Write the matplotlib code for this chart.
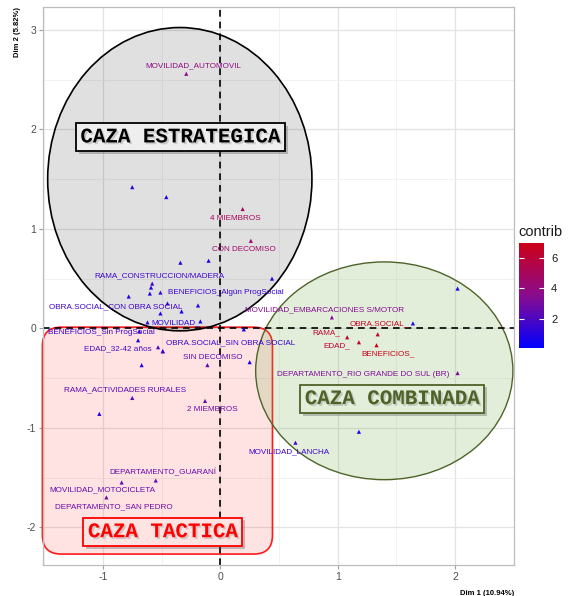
import matplotlib
matplotlib.use("Agg")
import matplotlib.pyplot as plt
import matplotlib.patheffects as pe
from matplotlib.patches import Ellipse, FancyBboxPatch
from matplotlib.colors import LinearSegmentedColormap, Normalize
from matplotlib.colorbar import ColorbarBase
from matplotlib.ticker import MultipleLocator

plt.rcParams['font.family'] = ['Liberation Sans', 'DejaVu Sans']
plt.rcParams['axes.unicode_minus'] = False

# ---------------- data ----------------
var_labels = [
    "MOVILIDAD_AUTOMOVIL", "", "", "4 MIEMBROS", "CON DECOMISO", "", "", "",
    "RAMA_CONSTRUCCION/MADERA", "", "", "BENEFICIOS_Algún ProgSocial", "",
    "OBRA.SOCIAL_CON OBRA SOCIAL", "", "", "", "MOVILIDAD_", "", "",
    "BENEFICIOS_Sin ProgSocial", "", "EDAD_32-42 años", "", "OBRA.SOCIAL_SIN OBRA SOCIAL",
    "", "SIN DECOMISO", "", "RAMA_ACTIVIDADES RURALES", "2 MIEMBROS", "",
    "MOVILIDAD_LANCHA", "", "MOVILIDAD_MOTOCICLETA", "DEPARTAMENTO_GUARANÍ",
    "DEPARTAMENTO_SAN PEDRO", "", "MOVILIDAD_EMBARCACIONES S/MOTOR", "",
    "OBRA.SOCIAL_", "RAMA_", "EDAD_", "BENEFICIOS_", "DEPARTAMENTO_RIO GRANDE DO SUL (BR)",
]
dim1 = [-0.29, -0.75, -0.46, 0.19, 0.26, -0.34, -0.10, 0.44,
        -0.58, -0.59, -0.60, -0.51, -0.78,
        -0.45, -0.19, -0.33, -0.51, -0.62, -0.17, 0.20,
        -0.69, -0.70, -0.53, -0.49, -0.49,
        -0.67, -0.11, 0.25, -0.75, -0.13, -1.03,
        0.64, 1.18, -0.84, -0.55,
        -0.97, 2.02, 0.95, 1.64,
        1.34, 1.08, 1.18, 1.33, 2.02]
dim2 = [2.56, 1.42, 1.32, 1.20, 0.88, 0.66, 0.68, 0.50,
        0.45, 0.41, 0.35, 0.36, 0.32,
        0.25, 0.23, 0.17, 0.15, 0.06, 0.07, -0.01,
        -0.03, -0.12, -0.19, -0.23, -0.23,
        -0.37, -0.37, -0.34, -0.70, -0.73, -0.86,
        -1.15, -1.04, -1.55, -1.53,
        -1.70, 0.40, 0.11, 0.05,
        -0.06, -0.09, -0.14, -0.17, -0.45]
contrib = [3.8, 1.0, 1.0, 5.0, 4.6, 1.0, 0.9, 1.0,
           1.6, 0.9, 1.0, 1.5, 0.8,
           1.6, 0.8, 0.6, 0.8, 1.4, 0.5, 0.4,
           1.5, 0.9, 2.0, 1.0, 1.5,
           0.9, 2.4, 0.6, 2.3, 2.8, 0.9,
           1.6, 0.7, 2.5, 2.6,
           2.8, 0.6, 3.4, 0.8,
           6.5, 6.2, 6.3, 6.9, 3.2]
# label offsets from their point, in pixels (dx right, dy up)
label_offsets = [(7, 8), (0, 0), (0, 0), (-7, -9), (-7, -9), (0, 0), (0, 0), (0, 0),
                 (7, 8), (0, 0), (0, 0), (65, 0), (0, 0),
                 (-52, -3), (0, 0), (0, 0), (0, 0), (28, 0), (0, 0), (0, 0),
                 (-38, -1), (0, 0), (-40, -2), (0, 0), (68, 8),
                 (0, 0), (5, 8), (0, 0), (-7, 8), (7, -9), (0, 0),
                 (-7, -9), (0, 0), (-19, -7), (7, 8),
                 (7, -9), (0, 0), (-7, 8), (0, 0),
                 (2, 11), (-21, 5), (-22, -4), (11, -9), (-94, -1)]

x_ticks = [-1, 0, 1, 2]
y_ticks = [-2, -1, 0, 1, 2, 3]
cbar_ticks = [2, 4, 6]

# ---------------- figure ----------------
fig = plt.figure(figsize=(5.8, 5.96), dpi=100)
ax = fig.add_axes([0.0741, 0.052, 0.812, 0.936])
ax.set_xlim(-1.51, 2.50)
ax.set_ylim(-2.38, 3.23)

cmap = LinearSegmentedColormap.from_list("contrib", ["#0000FF", "#8A0C8E", "#CC0018"])
norm = Normalize(vmin=0.07, vmax=6.94)

# grid
ax.set_xticks(x_ticks)
ax.set_yticks(y_ticks)
ax.xaxis.set_minor_locator(MultipleLocator(0.5))
ax.yaxis.set_minor_locator(MultipleLocator(0.5))
ax.grid(which='major', color='#E3E3E3', lw=0.9, zorder=0)
ax.grid(which='minor', color='#F0F0F0', lw=0.6, zorder=0)
ax.set_axisbelow(True)
for s in ax.spines.values():
    s.set_color('#BDBDBD')
    s.set_linewidth(0.9)
ax.tick_params(which='major', length=3, color='#9E9E9E', labelsize=7.5, labelcolor='#4D4D4D', pad=2)
ax.tick_params(which='minor', length=0)

# shapes
rect = FancyBboxPatch((-1.515, -2.27), 1.959, 2.282,
                      boxstyle="round,pad=0,rounding_size=0.16",
                      mutation_aspect=1.18,
                      facecolor=(1, 0, 0, 0.11), edgecolor='#FF1A1A', lw=1.2,
                      zorder=1, clip_on=False)
ax.add_patch(rect)
ell_g = Ellipse((1.396, -0.427), 2.19, 2.19, facecolor=(0.44, 0.68, 0.28, 0.20),
                edgecolor='#4F6228', lw=1.0, zorder=1.1)
ax.add_patch(ell_g)
ell_k = Ellipse((-0.345, 1.50), 2.25, 3.05, facecolor=(0, 0, 0, 0.12),
                edgecolor='black', lw=1.2, zorder=1.2)
ax.add_patch(ell_k)

# reference lines
ax.axhline(0, color='black', ls=(0, (4, 3)), lw=1.2, zorder=2)
ax.axvline(0, color='black', ls=(0, (4, 3)), lw=1.2, zorder=2)

# points
ax.scatter(dim1, dim2, c=contrib, cmap=cmap, norm=norm, marker='^', s=9,
           linewidths=0, zorder=3)

# labels
for lab, x, y, c, off in zip(var_labels, dim1, dim2, contrib, label_offsets):
    if lab:
        ax.annotate(lab, (x, y), xytext=off, textcoords='offset pixels',
                    ha='center', va='center', fontsize=5.9, color=cmap(norm(c)),
                    zorder=4)

# group titles
def group_text(x, y, s, color, fc, ec):
    t = ax.text(x, y, s, ha='center', va='center', fontsize=15, fontweight='bold',
                family='Liberation Mono', color=color, zorder=5,
                bbox=dict(boxstyle='square,pad=0.22', fc=fc, ec=ec, lw=1.3))
    t.set_path_effects([pe.withSimplePatchShadow(offset=(1.3, -1.3),
                                                 shadow_rgbFace='#888888', alpha=0.35)])
    t.get_bbox_patch().set_path_effects([pe.SimplePatchShadow(offset=(2, -2), alpha=0.3),
                                         pe.Normal()])
    return t

group_text(-0.34, 1.925, "CAZA ESTRATEGICA", 'black', '#EEEEEE', 'black')
group_text(1.464, -0.707, "CAZA COMBINADA", '#4F6228', '#E3EFDA', '#4F6228')
group_text(-0.489, -2.045, "CAZA TACTICA", '#FF0000', '#FDE3E1', '#FF0000')

# axis labels
ax.set_xlabel("Dim 1 (10.94%)", fontsize=5.5, fontweight='bold', loc='right', labelpad=6)
ax.set_ylabel("Dim 2 (5.82%)", fontsize=5.5, fontweight='bold', loc='top', labelpad=4)

# colorbar
cax = fig.add_axes([0.895, 0.416, 0.043, 0.176])
cb = ColorbarBase(cax, cmap=cmap, norm=norm, orientation='vertical', ticks=cbar_ticks)
cb.outline.set_visible(False)
cax.tick_params(direction='in', length=3.5, width=0.8, color='white',
                left=True, right=True, labelleft=False, labelright=True,
                labelsize=8, labelcolor='#1A1A1A', pad=5)
fig.text(0.893, 0.611, "contrib", fontsize=10.5, va='center', ha='left', color='#1A1A1A')

fig.savefig("out.png", dpi=100)
